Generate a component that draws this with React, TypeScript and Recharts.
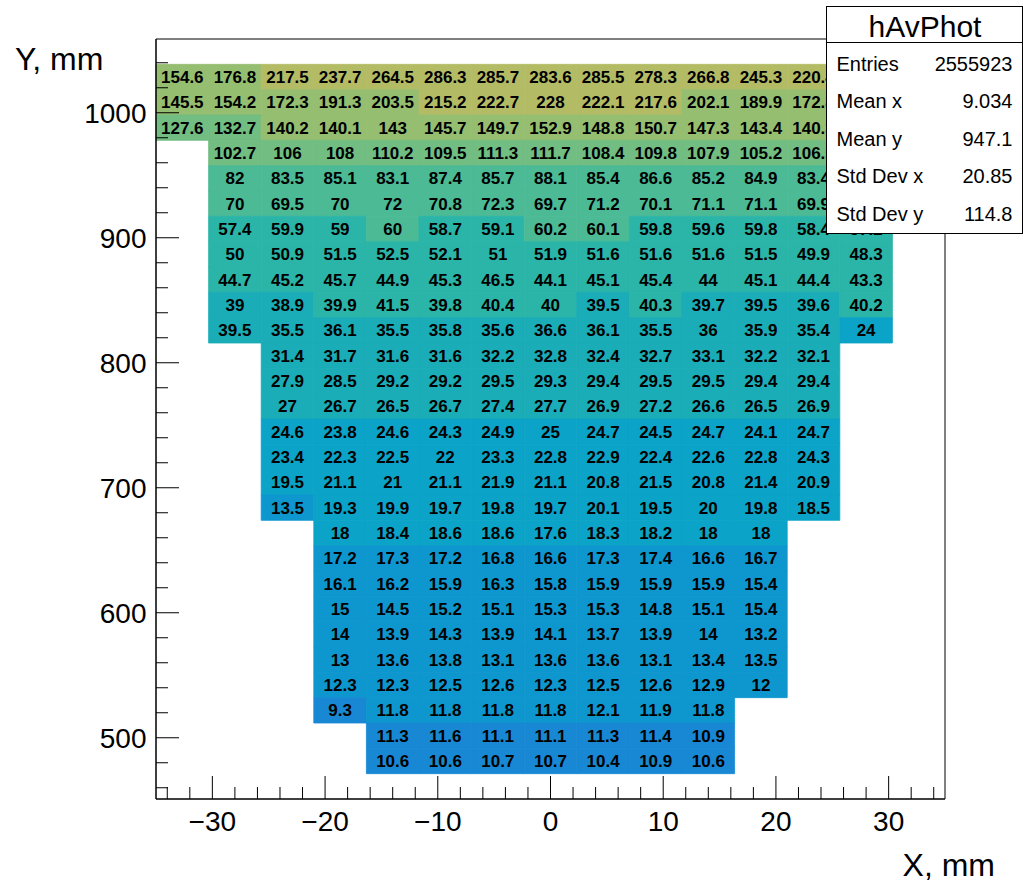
import React from 'react';
import { ComposedChart, XAxis, YAxis, ReferenceArea, Scatter } from 'recharts';

// Histogram binning (data space)
const X_MIN = -35;
const X_MAX = 35;
const NX = 15;
const Y_MIN = 451;
const Y_MAX = 1059;
const NY = 30;

const xTicks = [-34, -32, -30, -28, -26, -24, -22, -20, -18, -16, -14, -12, -10, -8, -6, -4, -2, 0, 2, 4, 6, 8, 10, 12, 14, 16, 18, 20, 22, 24, 26, 28, 30, 32, 34];
const yTicks = [460, 480, 500, 520, 540, 560, 580, 600, 620, 640, 660, 680, 700, 720, 740, 760, 780, 800, 820, 840, 860, 880, 900, 920, 940, 960, 980, 1000, 1020, 1040];

// Contour levels (log spaced) and band colours
const contourLevels = [7.77, 11.7, 17.5, 26.4, 39.75, 59.95, 90.2, 135.7, 204.3, 307.6];
const bandColors = ['#1888d4', '#0e97ce', '#0ba3c7', '#1aacb7', '#2bb5a8', '#4bba95', '#71bd82', '#95be71', '#b4bb65'];

// Rows: [y bin, first x bin, values]
const row28 = [154.6, 176.8, 217.5, 237.7, 264.5, 286.3, 285.7, 283.6, 285.5, 278.3, 266.8, 245.3, 220.4];
const row27 = [145.5, 154.2, 172.3, 191.3, 203.5, 215.2, 222.7, 228, 222.1, 217.6, 202.1, 189.9, 172.8];
const row26 = [127.6, 132.7, 140.2, 140.1, 143, 145.7, 149.7, 152.9, 148.8, 150.7, 147.3, 143.4, 140.3];
const row25 = [102.7, 106, 108, 110.2, 109.5, 111.3, 111.7, 108.4, 109.8, 107.9, 105.2, 106.5];
const row24 = [82, 83.5, 85.1, 83.1, 87.4, 85.7, 88.1, 85.4, 86.6, 85.2, 84.9, 83.4];
const row23 = [70, 69.5, 70, 72, 70.8, 72.3, 69.7, 71.2, 70.1, 71.1, 71.1, 69.9];
const row22 = [57.4, 59.9, 59, 60, 58.7, 59.1, 60.2, 60.1, 59.8, 59.6, 59.8, 58.4, 57.2];
const row21 = [50, 50.9, 51.5, 52.5, 52.1, 51, 51.9, 51.6, 51.6, 51.6, 51.5, 49.9, 48.3];
const row20 = [44.7, 45.2, 45.7, 44.9, 45.3, 46.5, 44.1, 45.1, 45.4, 44, 45.1, 44.4, 43.3];
const row19 = [39, 38.9, 39.9, 41.5, 39.8, 40.4, 40, 39.5, 40.3, 39.7, 39.5, 39.6, 40.2];
const row18 = [39.5, 35.5, 36.1, 35.5, 35.8, 35.6, 36.6, 36.1, 35.5, 36, 35.9, 35.4, 24];
const row17 = [31.4, 31.7, 31.6, 31.6, 32.2, 32.8, 32.4, 32.7, 33.1, 32.2, 32.1];
const row16 = [27.9, 28.5, 29.2, 29.2, 29.5, 29.3, 29.4, 29.5, 29.5, 29.4, 29.4];
const row15 = [27, 26.7, 26.5, 26.7, 27.4, 27.7, 26.9, 27.2, 26.6, 26.5, 26.9];
const row14 = [24.6, 23.8, 24.6, 24.3, 24.9, 25, 24.7, 24.5, 24.7, 24.1, 24.7];
const row13 = [23.4, 22.3, 22.5, 22, 23.3, 22.8, 22.9, 22.4, 22.6, 22.8, 24.3];
const row12 = [19.5, 21.1, 21, 21.1, 21.9, 21.1, 20.8, 21.5, 20.8, 21.4, 20.9];
const row11 = [13.5, 19.3, 19.9, 19.7, 19.8, 19.7, 20.1, 19.5, 20, 19.8, 18.5];
const row10 = [18, 18.4, 18.6, 18.6, 17.6, 18.3, 18.2, 18, 18];
const row9 = [17.2, 17.3, 17.2, 16.8, 16.6, 17.3, 17.4, 16.6, 16.7];
const row8 = [16.1, 16.2, 15.9, 16.3, 15.8, 15.9, 15.9, 15.9, 15.4];
const row7 = [15, 14.5, 15.2, 15.1, 15.3, 15.3, 14.8, 15.1, 15.4];
const row6 = [14, 13.9, 14.3, 13.9, 14.1, 13.7, 13.9, 14, 13.2];
const row5 = [13, 13.6, 13.8, 13.1, 13.6, 13.6, 13.1, 13.4, 13.5];
const row4 = [12.3, 12.3, 12.5, 12.6, 12.3, 12.5, 12.6, 12.9, 12];
const row3 = [9.3, 11.8, 11.8, 11.8, 11.8, 12.1, 11.9, 11.8];
const row2 = [11.3, 11.6, 11.1, 11.1, 11.3, 11.4, 10.9];
const row1 = [10.6, 10.6, 10.7, 10.7, 10.4, 10.9, 10.6];

const rows: [number, number, number[]][] = [
  [28, 0, row28], [27, 0, row27], [26, 0, row26],
  [25, 1, row25], [24, 1, row24], [23, 1, row23], [22, 1, row22], [21, 1, row21],
  [20, 1, row20], [19, 1, row19], [18, 1, row18],
  [17, 2, row17], [16, 2, row16], [15, 2, row15], [14, 2, row14], [13, 2, row13],
  [12, 2, row12], [11, 2, row11],
  [10, 3, row10], [9, 3, row9], [8, 3, row8], [7, 3, row7], [6, 3, row6], [5, 3, row5],
  [4, 3, row4], [3, 3, row3],
  [2, 4, row2], [1, 4, row1],
];

const FONT = '"Liberation Sans", Arial, Helvetica, sans-serif';

const bandColor = (v: number) => {
  let idx = 0;
  for (let i = 0; i < contourLevels.length - 1; i++) {
    if (v >= contourLevels[i]) idx = i;
  }
  return bandColors[Math.min(idx, bandColors.length - 1)];
};

const dx = (X_MAX - X_MIN) / NX;
const dy = (Y_MAX - Y_MIN) / NY;

const cells = rows.flatMap(([yb, xb0, vals]) =>
  vals.map((v, k) => {
    const xb = xb0 + k;
    return {
      x1: X_MIN + xb * dx,
      x2: X_MIN + (xb + 1) * dx,
      y1: Y_MIN + yb * dy,
      y2: Y_MIN + (yb + 1) * dy,
      x: X_MIN + (xb + 0.5) * dx,
      y: Y_MIN + (yb + 0.5) * dy,
      v,
    };
  })
);

const fmtTick = (v: number) => (v < 0 ? '\u2212' + Math.abs(v) : String(v));

const XTick = (props: any) => {
  const { x, y, payload } = props;
  const v = payload.value;
  const major = v % 10 === 0;
  const len = major ? 23 : 12;
  return (
    <g>
      <line x1={x} x2={x} y1={y} y2={y - len} stroke="#000" strokeWidth={1} />
      {major && (
        <text x={x} y={y + 32} textAnchor="middle" fontSize={28} fontFamily={FONT} fill="#000">
          {fmtTick(v)}
        </text>
      )}
    </g>
  );
};

const YTick = (props: any) => {
  const { x, y, payload } = props;
  const v = payload.value;
  const major = v % 100 === 0;
  const len = major ? 23 : 12;
  return (
    <g>
      <line x1={x} x2={x + len} y1={y} y2={y} stroke="#000" strokeWidth={1} />
      {major && (
        <text x={x - 9.5} y={y + 10.5} textAnchor="end" fontSize={28} fontFamily={FONT} fill="#000">
          {fmtTick(v)}
        </text>
      )}
    </g>
  );
};

const statsRows: [string, string][] = [
  ['Entries', '2555923'],
  ['Mean x', '9.034'],
  ['Mean y', '947.1'],
  ['Std Dev x', '20.85'],
  ['Std Dev y', '114.8'],
];
const statsBaselines = [70.5, 108, 145.5, 183, 220.5];

export default function App() {
  return (
    <div style={{ position: 'absolute', left: 0, top: 0, width: 1023, height: 882, background: '#fff' }}>
      <ComposedChart width={1023} height={882} margin={{ top: 39, right: 78, left: 0, bottom: 0 }} data={cells}>
        <XAxis
          type="number"
          dataKey="x"
          domain={[X_MIN, X_MAX]}
          allowDataOverflow
          ticks={xTicks}
          interval={0}
          tickSize={0}
          tickMargin={0}
          tickLine={false}
          height={83}
          axisLine={{ stroke: '#000' }}
          tick={XTick}
        />
        <YAxis
          type="number"
          dataKey="y"
          domain={[Y_MIN, Y_MAX]}
          allowDataOverflow
          ticks={yTicks}
          interval={0}
          tickSize={0}
          tickMargin={0}
          tickLine={false}
          width={156}
          axisLine={{ stroke: '#000' }}
          tick={YTick}
        />
        <Scatter data={cells} dataKey="y" isAnimationActive={false} shape={() => <g />} />
        {cells.map((c, i) => {
          const col = bandColor(c.v);
          return (
            <ReferenceArea
              key={i}
              x1={c.x1}
              x2={c.x2}
              y1={c.y1}
              y2={c.y2}
              fill={col}
              fillOpacity={1}
              stroke={col}
              strokeWidth={0.8}
              ifOverflow="visible"
              label={{
                value: String(c.v),
                position: 'center',
                fill: '#000',
                fontSize: 17,
                fontWeight: 'bold',
                fontFamily: FONT,
              }}
            />
          );
        })}
        <ReferenceArea x1={X_MIN} x2={X_MAX} y1={Y_MIN} y2={Y_MAX} fill="none" fillOpacity={0} stroke="#000" strokeWidth={1} ifOverflow="visible" />
      </ComposedChart>
      <svg width={1023} height={882} style={{ position: 'absolute', left: 0, top: 0, pointerEvents: 'none' }}>
        <text x={995} y={876} textAnchor="end" fontSize={32} fontFamily={FONT} fill="#000">X, mm</text>
        <text x={15} y={70} textAnchor="start" fontSize={32} fontFamily={FONT} fill="#000">Y, mm</text>
        <rect x={826.5} y={6.5} width={196} height={227} fill="#fff" stroke="#000" strokeWidth={1} />
        <line x1={826.5} x2={1022.5} y1={42.5} y2={42.5} stroke="#000" strokeWidth={1} />
        <text x={925} y={36.5} textAnchor="middle" fontSize={30} fontFamily={FONT} fill="#000">hAvPhot</text>
        {statsRows.map(([k, v], i) => (
          <g key={k}>
            <text x={836.5} y={statsBaselines[i]} fontSize={20} fontFamily={FONT} fill="#000">{k}</text>
            <text x={1012.5} y={statsBaselines[i]} textAnchor="end" fontSize={20} fontFamily={FONT} fill="#000">{v}</text>
          </g>
        ))}
      </svg>
    </div>
  );
}
